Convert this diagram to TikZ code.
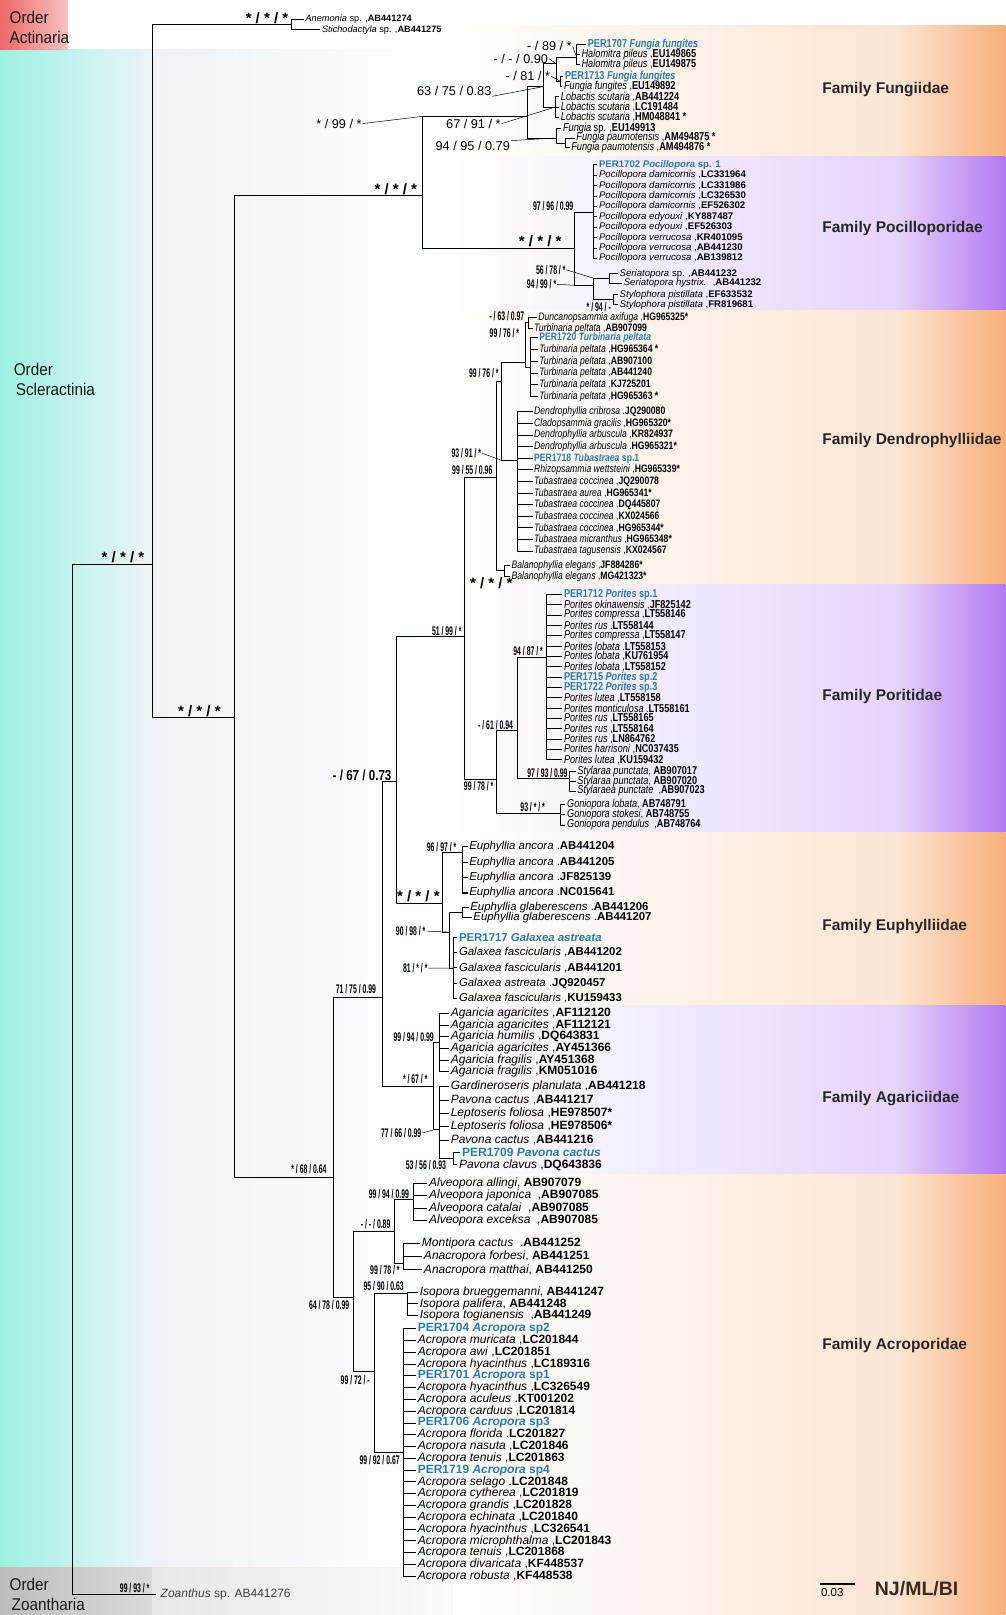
\documentclass[tikz,border=0pt]{standalone}
\usepackage{fontspec}
\setmainfont{Liberation Sans}
\newfontfamily\leafcond[FakeStretch=0.8]{Liberation Sans}
\newfontfamily\narrowfont[FakeStretch=0.55]{Liberation Sans}
\newfontfamily\midfont[FakeStretch=0.8]{Liberation Sans}
\newfontfamily\orderfont[FakeStretch=0.9]{Liberation Sans}
\usetikzlibrary{positioning}
\definecolor{perblue}{HTML}{2B7BAA}
\definecolor{orangeband}{HTML}{F8B07A}
\definecolor{purpleband}{HTML}{B27AF2}
\definecolor{cyanstrip}{HTML}{9EF2E3}
\definecolor{paleblue}{HTML}{EEF3F9}
\definecolor{redbox}{HTML}{EE6767}
\definecolor{greybox}{HTML}{BDBDBD}
\definecolor{njcolor}{HTML}{3A2A20}
\newcommand{\tx}[2]{\textit{#1} ,\textbf{#2}}    % name ,accession
\newcommand{\txc}[2]{\textit{#1}, \textbf{#2}}   % name, accession
\newcommand{\txd}[2]{\textit{#1} .\textbf{#2}}   % name .accession
\newcommand{\pers}[2]{\textcolor{perblue}{\textbf{#1 \textit{#2}}}}
\newcommand{\per}[3]{\textcolor{perblue}{\textbf{#1 \textit{#2} #3}}}
\newcommand{\famband}[3]{% colour, top, bottom
  \shade[left color=white, right color=#1!32] (440,#2) rectangle (870,#3);
  \shade[left color=#1!32, right color=#1] (870,#2) rectangle (976,#3);}
\def\acrstep{11.45}
\tikzset{
  branch/.style={line width=1pt},
  leader/.style={line width=0.5pt},
  leaf/.style={anchor=west, inner xsep=1.5pt, inner ysep=0pt,
    font=\leafcond\fontsize{#1}{#1}\selectfont},
  leafB/.style={anchor=west, inner xsep=1.5pt, inner ysep=0pt,
    font=\fontsize{#1}{#1}\selectfont},
  bs/.style={inner sep=0.8pt, font=\narrowfont\bfseries\fontsize{12.5}{13}\selectfont},
  bsbig/.style={inner sep=0.8pt, font=\midfont\bfseries\fontsize{14.5}{15}\selectfont},
  bsreg/.style={inner sep=0.8pt, font=\fontsize{12.7}{13}\selectfont},
  stars/.style={inner sep=1pt, font=\bfseries\fontsize{15}{15}\selectfont},
  family/.style={anchor=west, text=black!85, font=\bfseries\fontsize{15.5}{16}\selectfont},
  order/.style={anchor=west, align=left, text=black!90,
    font=\orderfont\fontsize{17}{20}\selectfont}
}

\begin{document}
\begin{tikzpicture}[x=1.0297pt, y=-1.0297pt]
\useasboundingbox (0,0) rectangle (976,1568);
% background
\shade[left color=cyanstrip, right color=paleblue] (0,48) rectangle (150,1522);
\shade[left color=paleblue, right color=white] (150,48) rectangle (440,1522);
\shade[left color=redbox, right color=redbox!40] (0,0) rectangle (66,48);
\shade[left color=greybox, right color=greybox!55] (0,1522) rectangle (148,1568);
\shade[left color=greybox!35, right color=white] (148,1522) rectangle (520,1568);
\famband{orangeband}{25}{152}
\famband{purpleband}{152}{301}
\famband{orangeband}{301}{567}
\famband{purpleband}{567}{808}
\famband{orangeband}{808}{976}
\famband{purpleband}{976}{1140}
\famband{orangeband}{1140}{1568}

\node[order] (ordAct) at (6,27) {Order\\Actinaria};
\node[order] (ordScl) at (10,368) {Order\\\hspace*{2pt}Scleractinia};
\node[order] (ordZoa) at (6,1548) {Order\\\hspace*{2pt}Zoantharia};
\node[family] (famFun) at (795,87) {Family Fungiidae};
\node[family] (famPoc) at (795,222) {Family Pocilloporidae};
\node[family] (famDen) at (795,428) {Family Dendrophylliidae};
\node[family] (famPor) at (795,676) {Family Poritidae};
\node[family] (famEup) at (795,900) {Family Euphylliidae};
\node[family] (famAga) at (795,1067) {Family Agariciidae};
\node[family] (famAcr) at (795,1306) {Family Acroporidae};

% inner nodes of the tree
\coordinate (root) at (70,548);
\coordinate (A) at (148,548);
\coordinate (act) at (283,24);
\coordinate (S) at (228,697);
\coordinate (FP) at (410,190);
\coordinate (FUN) at (512,113);
\coordinate (FA) at (528,84);
\coordinate (FC) at (540,62);
\coordinate (FD) at (560,56);
\coordinate (FF) at (544,79);
\coordinate (LOB) at (539,104);
\coordinate (FB) at (540,134);
\coordinate (PAU) at (549,139);
\coordinate (POC) at (558,241);
\coordinate (POCI) at (576,206);
\coordinate (SS) at (576,277);
\coordinate (SER) at (592,270);
\coordinate (STY) at (596,291);
\coordinate (PD) at (451,618);
\coordinate (D1) at (482,464);
\coordinate (T2) at (487,370);
\coordinate (T1) at (510,352);
\coordinate (DUN) at (513,313);
\coordinate (TURB) at (515,357);
\coordinate (DEND) at (502,447);
\coordinate (BAL) at (490,554);
\coordinate (PO) at (482,757);
\coordinate (PS) at (502,709);
\coordinate (POR) at (531,638);
\coordinate (STYL) at (553,756);
\coordinate (GON) at (544,790);
\coordinate (N) at (385,759);
\coordinate (EUP) at (430,877);
\coordinate (EANC) at (449,828);
\coordinate (EG) at (436,905);
\coordinate (GLA) at (449,886);
\coordinate (GAL) at (440,940);
\coordinate (M) at (371,968);
\coordinate (AG0) at (421,1055);
\coordinate (AGAR) at (427,1012);
\coordinate (PAV) at (427,1097);
\coordinate (PC) at (440,1125);
\coordinate (X) at (324,1143);
\coordinate (ACR) at (343,1260);
\coordinate (AMA) at (383,1196);
\coordinate (ALV) at (401,1165);
\coordinate (MA) at (392,1227);
\coordinate (IA) at (364,1332);
\coordinate (ISO) at (396,1256);
\coordinate (ACRO) at (392,1410);

% leaves
\node[leafB=9.2] (anem) at (295,19) {\textit{Anemonia} sp. ,\textbf{AB441274}};
\node[leafB=9.2] (stich) at (311,29) {\textit{Stichodactyla} sp. ,\textbf{AB441275}};
\node[leafB=12, inner xsep=5pt, text=black!75] (zoa) at (151,1548) {\textit{Zoanthus} sp. AB441276};

\node[leaf=11.5] (f1) at (569,43) {\pers{PER1707}{Fungia fungites}};
\node[leaf=11.5] (f2) at (563,53) {\tx{Halomitra pileus}{EU149865}};
\node[leaf=11.5] (f3) at (563,63) {\tx{Halomitra pileus}{EU149875}};
\node[leaf=11.5] (f4) at (547,74) {\pers{PER1713}{Fungia fungites}};
\node[leaf=11.5] (f5) at (546,84) {\tx{Fungia fungites}{EU149892}};
\node[leaf=11.5] (f6) at (543,94) {\tx{Lobactis scutaria}{AB441224}};
\node[leaf=11.5] (f7) at (543,104) {\tx{Lobactis scutaria}{LC191484}};
\node[leaf=11.5] (f8) at (543,114) {\tx{Lobactis scutaria}{HM048841 *}};
\node[leaf=11.5] (f9) at (545,125) {\textit{Fungia} sp. ,\textbf{EU149913}};
\node[leaf=11.5] (f10) at (558,134) {\tx{Fungia paumotensis}{AM494875 *}};
\node[leaf=11.5] (f11) at (553,143) {\tx{Fungia paumotensis}{AM494876 *}};

\foreach \lt [count=\i] in {{\per{PER1702}{Pocillopora}{sp. 1}},
  {\tx{Pocillopora damicornis}{LC331964}}, {\tx{Pocillopora damicornis}{LC331986}},
  {\tx{Pocillopora damicornis}{LC326530}}, {\tx{Pocillopora damicornis}{EF526302}},
  {\tx{Pocillopora edyouxi}{KY887487}}, {\tx{Pocillopora edyouxi}{EF526303}},
  {\tx{Pocillopora verrucosa}{KR401095}}, {\tx{Pocillopora verrucosa}{AB441230}},
  {\tx{Pocillopora verrucosa}{AB139812}}}
  \node[leafB=9.6] (p\i) at (580,{160+(\i-1)*10.1}) {\lt};
\node[leafB=9.6] (ser1) at (600,266) {\textit{Seriatopora} sp. ,\textbf{AB441232}};
\node[leafB=9.6] (ser2) at (604,275) {\textit{Seriatopora hystrix.} \ ,\textbf{AB441232}};
\node[leafB=9.6] (sty1) at (600,286) {\tx{Stylophora pistillata}{EF633532}};
\node[leafB=9.6] (sty2) at (600,296) {\tx{Stylophora pistillata}{FR819681}};

\node[leaf=10.8] (dn1) at (521,308) {\tx{Duncanopsammia axifuga}{HG965325*}};
\node[leaf=10.8] (dn2) at (517,319) {\tx{Turbinaria peltata}{AB907099}};
\foreach \lt [count=\i] in {{\pers{PER1720}{Turbinaria peltata}},
  {\tx{Turbinaria peltata}{HG965364 *}}, {\tx{Turbinaria peltata}{AB907100}},
  {\tx{Turbinaria peltata}{AB441240}}, {\tx{Turbinaria peltata}{KJ725201}},
  {\tx{Turbinaria peltata}{HG965363 *}}}
  \node[leaf=10.8] (tu\i) at (522,{328+(\i-1)*11.4}) {\lt};
\foreach \lt [count=\i] in {{\txd{Dendrophyllia cribrosa}{JQ290080}},
  {\tx{Cladopsammia gracilis}{HG965320*}}, {\tx{Dendrophyllia arbuscula}{KR824937}},
  {\txd{Dendrophyllia arbuscula}{HG965321*}}, {\per{PER1718}{Tubastraea}{sp.1}},
  {\tx{Rhizopsammia wettsteini}{HG965339*}}, {\tx{Tubastraea coccinea}{JQ290078}},
  {\tx{Tubastraea aurea}{HG965341*}}, {\txd{Tubastraea coccinea}{DQ445807}},
  {\tx{Tubastraea coccinea}{KX024566}}, {\tx{Tubastraea coccinea}{HG965344*}},
  {\tx{Tubastraea micranthus}{HG965348*}}, {\tx{Tubastraea tagusensis}{KX024567}}}
  \node[leaf=10.8] (de\i) at (517,{400+(\i-1)*11.25}) {\lt};
\node[leaf=10.8] (ba1) at (495,549) {\tx{Balanophyllia elegans}{JF884286*}};
\node[leaf=10.8] (ba2) at (495,560) {\tx{Balanophyllia elegans}{MG421323*}};

\foreach \lt [count=\i] in {{\per{PER1712}{Porites}{sp.1}},
  {\tx{Porites okinawensis}{JF825142}}, {\tx{Porites compressa}{LT558146}},
  {\txd{Porites rus}{LT558144}}, {\tx{Porites compressa}{LT558147}},
  {\txd{Porites lobata}{LT558153}}, {\tx{Porites lobata}{KU761954}},
  {\tx{Porites lobata}{LT558152}}, {\per{PER1715}{Porites}{sp.2}},
  {\per{PER1722}{Porites}{sp.3}}, {\tx{Porites lutea}{LT558158}},
  {\txd{Porites monticulosa}{LT558161}}, {\tx{Porites rus}{LT558165}},
  {\tx{Porites rus}{LT558164}}, {\tx{Porites rus}{LN864762}},
  {\tx{Porites harrisoni}{NC037435}}, {\tx{Porites lutea}{KU159432}}}
  \node[leaf=11.4] (po\i) at (546,{577+(\i-1)*10.05}) {\lt};
\node[leaf=11.4] (st1) at (559,749) {\txc{Stylaraa punctata}{AB907017}};
\node[leaf=11.4] (st2) at (559,759) {\txc{Stylaraa punctata}{AB907020}};
\node[leaf=11.4] (st3) at (559,768) {\textit{Stylaraea punctate} \ ,\textbf{AB907023}};
\node[leaf=11.4] (go1) at (549,781) {\txc{Goniopora lobata}{AB748791}};
\node[leaf=11.4] (go2) at (549,791) {\txc{Goniopora stokesi}{AB748755}};
\node[leaf=11.4] (go3) at (549,801) {\textit{Goniopora pendulus} \ ,\textbf{AB748764}};

\foreach \lt [count=\i] in {AB441204, AB441205, JF825139, NC015641}
  \node[leafB=11.4] (eu\i) at (454,{822+(\i-1)*15}) {\txd{Euphyllia ancora}{\lt}};
\node[leafB=11.4] (gl1) at (455,881) {\txd{Euphyllia glaberescens}{AB441206}};
\node[leafB=11.4] (gl2) at (458,891) {\txd{Euphyllia glaberescens}{AB441207}};
\foreach \lt [count=\i] in {{\pers{PER1717}{Galaxea astreata}},
  {\tx{Galaxea fascicularis}{AB441202}}, {\tx{Galaxea fascicularis}{AB441201}},
  {\txd{Galaxea astreata}{JQ920457}}, {\tx{Galaxea fascicularis}{KU159433}}}
  \node[leafB=11.4] (ga\i) at (444,{910+(\i-1)*14.8}) {\lt};

\foreach \lt [count=\i] in {{\tx{Agaricia agaricites}{AF112120}},
  {\tx{Agaricia agaricites}{AF112121}}, {\tx{Agaricia humilis}{DQ643831}},
  {\tx{Agaricia agaricites}{AY451366}}, {\tx{Agaricia fragilis}{AY451368}},
  {\tx{Agaricia fragilis}{KM051016}}}
  \node[leafB=12] (ag\i) at (436,{984+(\i-1)*11.3}) {\lt};
\foreach \lt [count=\i] in {{\tx{Gardineroseris planulata}{AB441218}},
  {\tx{Pavona cactus}{AB441217}}, {\tx{Leptoseris foliosa}{HE978507*}},
  {\tx{Leptoseris foliosa}{HE978506*}}, {\tx{Pavona cactus}{AB441216}}}
  \node[leafB=12] (pv\i) at (436,{1055+(\i-1)*13}) {\lt};
\node[leafB=12] (pc1) at (447,1119) {\pers{PER1709}{Pavona cactus}};
\node[leafB=12] (pc2) at (444,1131) {\tx{Pavona clavus}{DQ643836}};

\node[leafB=12] (al1) at (415,1149) {\txc{Alveopora allingi}{AB907079}};
\node[leafB=12] (al2) at (415,1161) {\textit{Alveopora japonica} \ ,\textbf{AB907085}};
\node[leafB=12] (al3) at (415,1173) {\textit{Alveopora catalai} \ ,\textbf{AB907085}};
\node[leafB=12] (al4) at (415,1185) {\textit{Alveopora exceksa} \ ,\textbf{AB907085}};
\node[leafB=12] (ma1) at (408,1207) {\textit{Montipora cactus} \ .\textbf{AB441252}};
\node[leafB=12] (ma2) at (410,1220) {\txc{Anacropora forbesi}{AB441251}};
\node[leafB=12] (ma3) at (410,1233) {\txc{Anacropora matthai}{AB441250}};
\node[leafB=12] (is1) at (406,1255) {\txc{Isopora brueggemanni}{AB441247}};
\node[leafB=12] (is2) at (406,1266) {\txc{Isopora palifera}{AB441248}};
\node[leafB=12] (is3) at (406,1277) {\textit{Isopora togianensis} \ ,\textbf{AB441249}};
\foreach \lt [count=\i] in {{\per{PER1704}{Acropora}{sp2}},
  {\tx{Acropora muricata}{LC201844}}, {\tx{Acropora awi}{LC201851}},
  {\tx{Acropora hyacinthus}{LC189316}}, {\per{PER1701}{Acropora}{sp1}},
  {\tx{Acropora hyacinthus}{LC326549}}, {\txd{Acropora aculeus}{KT001202}},
  {\tx{Acropora carduus}{LC201814}}, {\per{PER1706}{Acropora}{sp3}},
  {\txd{Acropora florida}{LC201827}}, {\tx{Acropora nasuta}{LC201846}},
  {\tx{Acropora tenuis}{LC201863}}, {\per{PER1719}{Acropora}{sp4}},
  {\txd{Acropora selago}{LC201848}}, {\tx{Acropora cytherea}{LC201819}},
  {\tx{Acropora grandis}{LC201828}}, {\tx{Acropora echinata}{LC201840}},
  {\tx{Acropora hyacinthus}{LC326541}}, {\tx{Acropora microphthalma}{LC201843}},
  {\tx{Acropora tenuis}{LC201868}}, {\tx{Acropora divaricata}{KF448537}},
  {\tx{Acropora robusta}{KF448538}}}
  \node[leafB=12] (ac\i) at (404,{1290+(\i-1)*\acrstep}) {\lt};

% branches
\draw[branch] (root) |- (A) (root) |- (zoa.west);
\draw[branch] (A) |- (act) (A) |- (S);
\draw[branch] (act) |- (anem.west) (act) |- (stich.west);
\draw[branch] (S) |- (FP) (S) |- (X);
\draw[branch] (FP) |- (FUN) (FP) |- (POC);
\draw[branch] (FUN) |- (FA) (FUN) |- (FB);
\draw[branch] (FA) |- (FC) (FA) |- (LOB);
\draw[branch] (FC) |- (FD) (FC) |- (FF);
\draw[branch] (FD) |- (f1.west) (FD) |- (f2.west) (FD) |- (f3.west);
\draw[branch] (FF) |- (f4.west) (FF) |- (f5.west);
\draw[branch] (LOB) |- (f6.west) (LOB) |- (f7.west) (LOB) |- (f8.west);
\draw[branch] (FB) |- (f9.west) (FB) |- (PAU);
\draw[branch] (PAU) |- (f10.west) (PAU) |- (f11.west);
\draw[branch] (POC) |- (POCI) (POC) |- (SS);
\foreach \i in {1,...,10} \draw[branch] (POCI) |- (p\i.west);
\draw[branch] (SS) |- (SER) (SS) |- (STY);
\draw[branch] (SER) |- (ser1.west) (SER) |- (ser2.west);
\draw[branch] (STY) |- (sty1.west) (STY) |- (sty2.west);
\draw[branch] (PD) |- (D1) (PD) |- (PO);
\draw[branch] (D1) |- (T2) (D1) |- (BAL);
\draw[branch] (T2) |- (T1) (T2) |- (DEND);
\draw[branch] (T1) |- (DUN) (T1) |- (TURB);
\draw[branch] (DUN) |- (dn1.west) (DUN) |- (dn2.west);
\foreach \i in {1,...,6} \draw[branch] (TURB) |- (tu\i.west);
\foreach \i in {1,...,13} \draw[branch] (DEND) |- (de\i.west);
\draw[branch] (BAL) |- (ba1.west) (BAL) |- (ba2.west);
\draw[branch] (PO) |- (PS) (PO) |- (GON);
\draw[branch] (PS) |- (POR) (PS) |- (STYL);
\foreach \i in {1,...,17} \draw[branch] (POR) |- (po\i.west);
\foreach \i in {1,2,3} \draw[branch] (STYL) |- (st\i.west) (GON) |- (go\i.west);
\draw[branch] (N) |- (PD) (N) |- (EUP);
\draw[branch] (EUP) |- (EANC) (EUP) |- (EG);
\foreach \i in {1,...,4} \draw[branch] (EANC) |- (eu\i.west);
\draw[branch] (EG) |- (GLA) (EG) |- (GAL);
\draw[branch] (GLA) |- (gl1.west) (GLA) |- (gl2.west);
\foreach \i in {1,...,5} \draw[branch] (GAL) |- (ga\i.west);
\draw[branch] (M) |- (N) (M) |- (AG0);
\draw[branch] (AG0) |- (AGAR) (AG0) |- (PAV);
\foreach \i in {1,...,6} \draw[branch] (AGAR) |- (ag\i.west);
\foreach \i in {1,...,5} \draw[branch] (PAV) |- (pv\i.west);
\draw[branch] (PAV) |- (PC);
\draw[branch] (PC) |- (pc1.west) (PC) |- (pc2.west);
\draw[branch] (X) |- (M) (X) |- (ACR);
\draw[branch] (ACR) |- (AMA) (ACR) |- (IA);
\draw[branch] (AMA) |- (ALV) (AMA) |- (MA);
\foreach \i in {1,...,4} \draw[branch] (ALV) |- (al\i.west);
\foreach \i in {1,2,3} \draw[branch] (MA) |- (ma\i.west) (ISO) |- (is\i.west);
\draw[branch] (IA) |- (ISO) (IA) |- (ACRO);
\foreach \i in {1,...,22} \draw[branch] (ACRO) |- (ac\i.west);

% support values
\node[stars, anchor=south east] (lbAct) at ([xshift=-2pt]act) {* / * / *};
\node[stars, anchor=south east] (lbRoot) at ([xshift=-7pt]A) {* / * / *};
\node[stars, anchor=south east] (lbS) at ([xshift=-13pt]S) {* / * / *};
\node[stars, anchor=south east] (lbFP) at ([xshift=-4pt]FP) {* / * / *};
\node[bsreg, anchor=east] (lb89) at (556,45) {- / 89 / *};
\node[bsreg, anchor=east] (lb090) at (533,57) {- / - / 0.90};
\node[bsreg, anchor=east] (lb81) at (535,74) {- / 81 / *};
\node[bsreg, anchor=east] (lb083) at (478,88) {63 / 75 / 0.83};
\node[bsreg, anchor=east] (lb99) at (352,120) {* / 99 / *};
\node[bsreg, anchor=east] (lb91) at (487,120) {67 / 91 / *};
\node[bsreg] (lb079) at (459,142) {94 / 95 / 0.79};
\draw[leader] (lb89.east) -- (FD) (lb090.east) -- (FC) (lb81.east) -- (FF)
  (lb083.south east) -- (FA) (lb99.east) -- (FP |- FUN) (lb91.east) -- (LOB)
  (lb079.north east) -- (FB);
\node[bs, anchor=south east] (lb9699) at ([xshift=-19pt]POCI) {97 / 96 / 0.99};
\node[stars, anchor=south east] (lbPOC) at ([xshift=-12pt]POC) {* / * / *};
\node[bs, anchor=east] (lb5678) at (550,262) {56 / 78 / *};
\node[bs, anchor=east] (lb9499) at (541,276) {94 / 99 / *};
\node[bs, anchor=east] (lb94) at (594,298) {* / 94 / -};
\draw[leader] (lb5678.east) -- (SS |- SER) (lb9499.east) -- (POC |- SS);
\node[bs, anchor=east] (lb6397) at (510,307) {- / 63 / 0.97};
\node[bs, anchor=east] (lb7601) at (505,323) {99 / 76 / *};
\node[bs, anchor=south east] (lb7602) at (485,368) {99 / 76 / *};
\node[bs, anchor=east] (lb9391) at (468,440) {93 / 91 / *};
\draw[leader] (lb9391.east) -- (T2 |- DEND);
\node[bs, anchor=south east] (lb5596) at (479,462) {99 / 55 / 0.96};
\node[stars] (lbD0) at (477,566) {* / * / *};
\node[bs, anchor=south east] (lb5199) at (449,618) {51 / 99 / *};
\node[bs, anchor=south east] (lb9487) at (528,638) {94 / 87 / *};
\node[bs, anchor=south east] (lb6194) at (499,709) {- / 61 / 0.94};
\node[bs, anchor=south east] (lb9399) at (552,756) {97 / 93 / 0.99};
\node[bs, anchor=east] (lb9978) at (480,763) {99 / 78 / *};
\node[bs, anchor=south east] (lb93) at (530,789) {93 / * / *};
\node[bsbig, anchor=south east] (lb6773) at (381,759) {- / 67 / 0.73};
\node[bs, anchor=south east] (lb9697) at (444,828) {96 / 97 / *};
\node[stars, anchor=south east] (lbEUP) at (428,877) {* / * / *};
\node[bs, anchor=east] (lb9098) at (414,904) {90 / 98 / *};
\node[bs, anchor=east] (lb81s) at (416,940) {81 / * / *};
\draw[leader] (lb9098.east) -- (EG) (lb81s.east) -- (GAL);
\node[bs, anchor=south east] (lb7599) at (366,966) {71 / 75 / 0.99};
\node[bs, anchor=south east] (lb9499a) at (422,1012) {99 / 94 / 0.99};
\node[bs, anchor=south east] (lb67) at (416,1053) {* / 67 / *};
\node[bs, anchor=east] (lb6699) at (410,1100) {77 / 66 / 0.99};
\draw[leader] (lb6699.east) -- (AG0 |- PAV);
\node[bs, anchor=north east] (lb5693) at (434,1126) {53 / 56 / 0.93};
\node[bs, anchor=south east] (lb6864) at (318,1141) {* / 68 / 0.64};
\node[bs, anchor=south east] (lb9499b) at (398,1165) {99 / 94 / 0.99};
\node[bs, anchor=south east] (lb089) at (380,1194) {- / - / 0.89};
\node[bs, anchor=north east] (lb9978b) at (389,1228) {99 / 78 / *};
\node[bs, anchor=south east] (lb9063) at (393,1254) {95 / 90 / 0.63};
\node[bs, anchor=north east] (lb7899) at (340,1262) {64 / 78 / 0.99};
\node[bs, anchor=north east] (lb72) at (360,1334) {99 / 72 / -};
\node[bs, anchor=north east] (lb9267) at (389,1412) {99 / 92 / 0.67};
\node[bs, anchor=south east] (lb9393) at (146,1547) {99 / 93 / *};

% scale bar and methods
\coordinate (sb1) at (796,1538);
\coordinate (sb2) at (830,1538);
\draw[line width=1.4pt] (sb1) -- (sb2);
\node[anchor=north west, inner sep=1pt, font=\fontsize{11.5}{12}\selectfont] (sbl) at ([yshift=-3pt]sb1) {0.03};
\node[anchor=west, text=njcolor, font=\bfseries\fontsize{19.5}{20}\selectfont] (njml) at (846,1542) {NJ/ML/BI};
\end{tikzpicture}
\end{document}
